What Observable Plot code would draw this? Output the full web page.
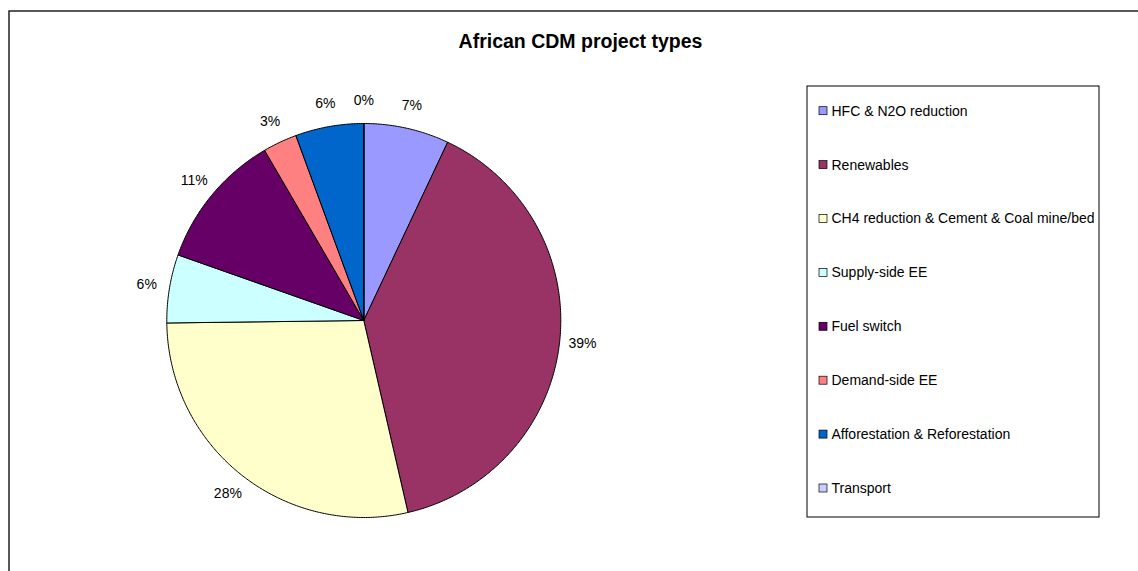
<!DOCTYPE html>
<html>
<head>
<meta charset="utf-8">
<script src="https://cdn.jsdelivr.net/npm/d3@7"></script>
<script src="https://cdn.jsdelivr.net/npm/@observablehq/plot@0.6"></script>
<style>
  html, body { margin: 0; padding: 0; background: #fff; }
  svg { display: block; font-family: "Liberation Sans", Arial, sans-serif; }
</style>
</head>
<body>
<div id="chart"></div>
<script>
const title = "African CDM project types";
const categories = [
  "HFC & N2O reduction",
  "Renewables",
  "CH4 reduction & Cement & Coal mine/bed",
  "Supply-side EE",
  "Fuel switch",
  "Demand-side EE",
  "Afforestation & Reforestation",
  "Transport"
];
const shares = [7.0, 39.4, 28.4, 5.6, 11.2, 2.8, 5.6, 0.0];
const colors = ["#9999FF", "#993366", "#FFFFCC", "#CCFFFF", "#660066", "#FF8080", "#0066CC", "#CCCCFF"];

// layout (pixels)
const W = 1138, H = 571;
const cx = 363.3, cy = 320, R = 197, labelR = 220;
const legend = {x1: 807, x2: 1099, y1: 86, y2: 517, firstY: 110.7, step: 53.9, markX: 819, textX: 831};

const arcs = d3.pie().sort(null).value(d => d)(shares);
const pt = (a, r) => [cx + r * Math.sin(a), cy - r * Math.cos(a)];

const slicePolys = arcs.map((a, i) => {
  const pts = [[cx, cy]];
  const n = Math.max(1, Math.ceil((a.endAngle - a.startAngle) / (Math.PI / 360)));
  for (let k = 0; k <= n; k++) pts.push(pt(a.startAngle + (a.endAngle - a.startAngle) * k / n, R));
  pts.push([cx, cy]);
  return pts;
});

const fmt = d3.format(".0f");
const labelData = arcs.map((a, i) => {
  const [x, y] = pt((a.startAngle + a.endAngle) / 2, labelR);
  return {x, y, text: fmt(shares[i]) + "%"};
});

const legendData = categories.map((c, i) => ({
  name: c, color: colors[i], y: legend.firstY + i * legend.step
}));

const chart = Plot.plot({
  width: W, height: H,
  margin: 0,
  x: {type: "identity", axis: null},
  y: {type: "identity", axis: null},
  marks: [
    // outer frame
    Plot.rect([0], {x1: 9, x2: W + 5, y1: 11, y2: H + 5, fill: "white", stroke: "#222", strokeWidth: 1.5}),
    Plot.text([title], {x: 580, y: 41.5, text: d => d, fontSize: 19.5, fontWeight: "bold", fill: "black", letterSpacing: "1.3px"}),
    // pie slices
    ...slicePolys.map((pts, i) => Plot.line(pts, {
      x: d => d[0], y: d => d[1], fill: colors[i], stroke: "black", strokeWidth: 1, strokeLinejoin: "round"
    })),
    // labels
    Plot.text(labelData, {x: "x", y: "y", text: "text", fontSize: 14, fill: "black", textAnchor: "middle", lineAnchor: "middle"}),
    // legend
    Plot.rect([0], {x1: legend.x1, x2: legend.x2, y1: legend.y1, y2: legend.y2, fill: "white", stroke: "black", strokeWidth: 1}),
    Plot.rect(legendData, {x1: legend.markX, x2: legend.markX + 8, y1: d => d.y - 4, y2: d => d.y + 4, fill: "color", stroke: "black", strokeWidth: 0.7}),
    Plot.text(legendData, {x: legend.textX, y: "y", text: "name", fontSize: 14, fill: "black", textAnchor: "start", lineAnchor: "middle"})
  ]
});
document.getElementById("chart").appendChild(chart);
</script>
</body>
</html>
